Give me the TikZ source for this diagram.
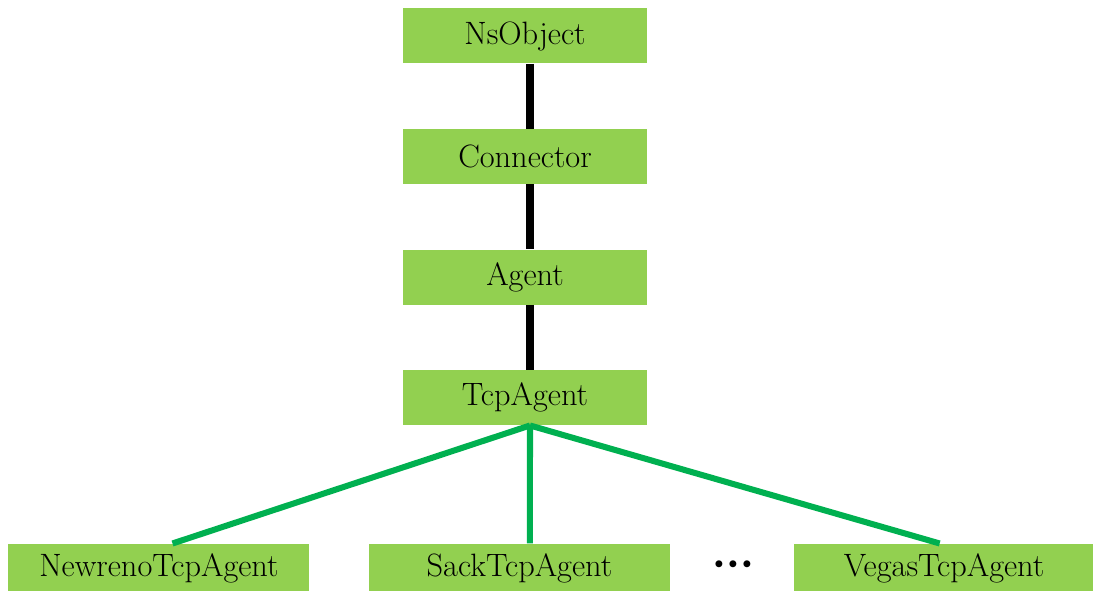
\documentclass[tikz,border=0pt]{standalone}
\usepackage[]{amsmath}
\usepackage[]{tikz}
\usepackage[]{xcolor}
\usetikzlibrary{positioning}

\definecolor{boxgreen}{HTML}{92D050}
\definecolor{linegreen}{HTML}{00B050}

\begin{document}
\begin{tikzpicture}[
        align=center,
        font=\fontsize{23}{27}\selectfont,
        cls/.style = {node distance=1.625cm and 1cm, fill=boxgreen, inner sep=0pt, minimum width=6.1cm, minimum height=1.375cm},
        sub/.style = {fill=boxgreen, inner sep=0pt, minimum width=7.525cm, minimum height=1.25cm},
        inh/.style = {line width=5.7pt, black},
        impl/.style = {line width=4.3pt, linegreen}
    ]

        \useasboundingbox (0,0) rectangle (27.325,14.775);

        \node[cls] (nsobj) at (13.125,13.875) {NsObject};
        \node[cls] (conn) [below=of nsobj] {Connector};
        \node[cls] (agent) [below=of conn] {Agent};
        \node[cls] (tcp) [below=of agent] {TcpAgent};
        \node[sub] (sack) [below=2.95cm of tcp, xshift=-0.1375cm] {SackTcpAgent};
        \node[sub] (newreno) [left=1.475cm of sack] {NewrenoTcpAgent};
        \node[sub] (vegas) [right=3.075cm of sack] {VegasTcpAgent};
        \node (dots) at (18.325,0.62) {\fontsize{22}{24}\selectfont\textbullet\hspace{-5.9pt}\textbullet\hspace{-5.9pt}\textbullet};

        \draw[inh] ([xshift=0.125cm]nsobj.south) -- ([xshift=0.125cm]conn.north);
        \draw[inh] ([xshift=0.125cm]conn.south) -- ([xshift=0.125cm]agent.north);
        \draw[inh] ([xshift=0.125cm]agent.south) -- ([xshift=0.125cm]tcp.north);
        \draw[impl] ([xshift=0.125cm]tcp.south) -- ([xshift=0.34cm]newreno.north);
        \draw[impl] ([xshift=0.125cm]tcp.south) -- ([xshift=0.26cm]sack.north);
        \draw[impl] ([xshift=0.125cm]tcp.south) -- ([xshift=-0.11cm]vegas.north);

    \end{tikzpicture}
\end{document}
